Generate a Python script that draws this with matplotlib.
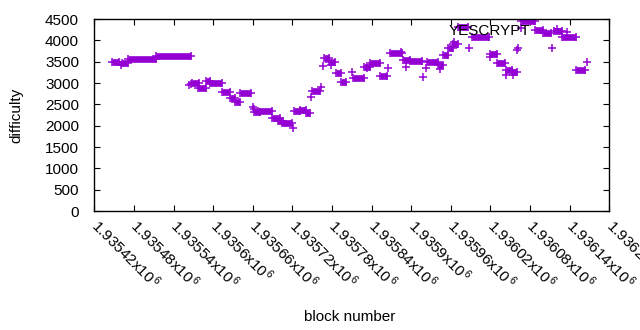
import numpy as np
import matplotlib
matplotlib.use("Agg")
import matplotlib.pyplot as plt

plt.rcParams['font.family'] = ['Liberation Sans', 'DejaVu Sans']
plt.rcParams['mathtext.fontset'] = 'custom'
plt.rcParams['mathtext.rm'] = 'Liberation Sans'
plt.rcParams['mathtext.it'] = 'Liberation Sans'

# runs of consecutive YESCRYPT blocks with the same difficulty
run_start = [1935447, 1935462, 1935471, 1935513, 1935568, 1935577, 1935589, 1935596,
             1935614, 1935626, 1935633, 1935641, 1935662, 1935668, 1935689, 1935698,
             1935704, 1935722, 1935732, 1935740, 1935750, 1935768, 1935776, 1935786,
             1935794, 1935812, 1935829, 1935838, 1935853, 1935868, 1935888, 1935898,
             1935924, 1935941, 1935948, 1935955, 1935963, 1935971, 1935992, 1936020,
             1936030, 1936043, 1936052, 1936067, 1936088, 1936099, 1936117, 1936129,
             1936149]
run_end = [1935458, 1935471, 1935513, 1935566, 1935578, 1935589, 1935596, 1935613,
           1935626, 1935633, 1935641, 1935658, 1935671, 1935689, 1935701, 1935706,
           1935719, 1935732, 1935741, 1935747, 1935762, 1935776, 1935785, 1935794,
           1935802, 1935828, 1935838, 1935853, 1935863, 1935886, 1935898, 1935916,
           1935941, 1935948, 1935956, 1935963, 1935971, 1935986, 1936018, 1936030,
           1936042, 1936052, 1936060, 1936088, 1936099, 1936111, 1936129, 1936149,
           1936163]
run_diff = [3490, 3480, 3560, 3630, 2990, 2880, 3040, 2995, 2780, 2640, 2550, 2760,
            2320, 2350, 2190, 2115, 2055, 2345, 2365, 2290, 2820, 3580, 3500, 3230,
            3030, 3120, 3385, 3460, 3170, 3695, 3540, 3525, 3500, 3420, 3655, 3815,
            3915, 4305, 4070, 3675, 3460, 3305, 3250, 4445, 4245, 4165, 4230, 4070,
            3305]

# single blocks
pt_block = [1935461, 1935564, 1935566, 1935660, 1935662, 1935721, 1935749, 1935764,
            1935767, 1935778, 1935810, 1935833, 1935865, 1935885, 1935892, 1935918,
            1935923, 1935944, 1935965, 1935988, 1936019, 1936044, 1936054, 1936060,
            1936062, 1936066, 1936114, 1936136, 1936166]
pt_diff = [3430, 2950, 2970, 2445, 2400, 1955, 2680, 2915, 3400, 3430, 3265, 3340,
           3345, 3730, 3385, 3150, 3360, 3330, 3970, 3815, 3620, 3190, 3190, 3775,
           3820, 4280, 3815, 4205, 3500]

xticks = np.arange(1935420, 1936201, 60)
yticks = np.arange(0, 4501, 500)

col = '#9400D3'
ms = 5.5
mew = 1.1

fig = plt.figure(figsize=(6.4, 3.3), dpi=100)
ax = fig.add_axes([0.1473, 0.3606, 0.8047, 0.5818])

ax.hlines(run_diff, run_start, run_end, colors=col, linewidth=4.8, capstyle='butt')
ax.plot(run_start, run_diff, '+', color=col, ms=ms, mew=mew, linestyle='none')
ax.plot(run_end, run_diff, '+', color=col, ms=ms, mew=mew, linestyle='none')
ax.plot(pt_block, pt_diff, '+', color=col, ms=ms, mew=mew, linestyle='none',
        label='YESCRYPT')

ax.set_xlim(1935420, 1936200)
ax.set_ylim(0, 4500)
ax.set_yticks(yticks)
ax.set_xticks(xticks)
ax.set_xticklabels(['%gx10$^{\\,6}$' % (v / 1e6) for v in xticks],
                   rotation=-45, ha='left', va='center', rotation_mode='anchor')

ax.tick_params(direction='in', length=4, width=0.8, top=True, right=True,
               labelsize=11, colors='black')
ax.tick_params(axis='y', pad=11)
ax.tick_params(axis='x', pad=8)
for s in ax.spines.values():
    s.set_linewidth(1.0)

ax.set_xlabel('block number', fontsize=11)
ax.set_ylabel('difficulty', fontsize=11)
ax.xaxis.set_label_coords(0.495, -0.515)
ax.yaxis.set_label_coords(-0.137, 0.5)

ax.legend(loc='upper right', bbox_to_anchor=(0.929, 0.975), markerfirst=False,
          frameon=False, fontsize=11, borderpad=0, borderaxespad=0,
          handlelength=2, handletextpad=0.8)

fig.savefig('out.png', dpi=100)
